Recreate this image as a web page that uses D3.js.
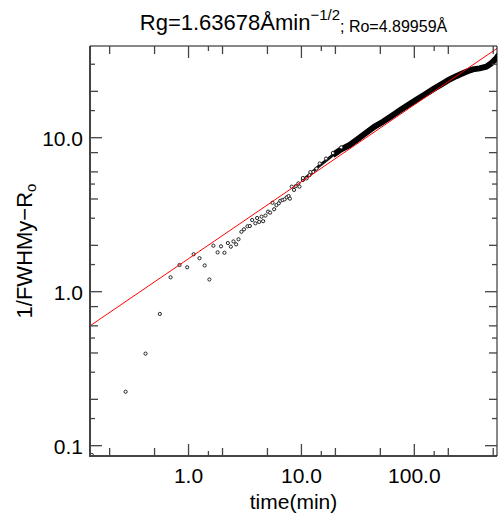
<!DOCTYPE html>
<html>
<head>
<meta charset="utf-8">
<script src="https://cdn.jsdelivr.net/npm/d3@7"></script>
<style>
body { margin: 0; background: #fff; }
text { font-family: "Liberation Sans", Arial, sans-serif; fill: #000; }
</style>
</head>
<body>
<div id="chart1"></div>
<script>
const width = 499;
const height = 516;

const margin = { "top": 46, "left": 90, "bottom": 60, "right": 2 };

// early, well separated samples (time in min, 1/FWHMy - Ro)
const sparseT = [0.139, 0.277, 0.416, 0.557, 0.693, 0.832, 0.972, 1.11, 1.25, 1.39, 1.53, 1.66, 1.81, 1.94, 2.08, 2.23, 2.37, 2.50, 2.64, 2.77,
    2.94, 3.10, 3.33, 3.49, 3.66, 3.91, 4.05, 4.22, 4.43, 4.58, 4.80, 5.06, 5.28, 5.54, 5.73, 6.0, 6.3, 6.5, 6.8, 7.1,
    7.4, 7.7, 7.9, 8.2, 8.6, 8.9, 9.4, 9.6, 10.3, 11.1, 11.8, 12.7, 13.6];
const sparseY = [0.087, 0.224, 0.396, 0.717, 1.24, 1.49, 1.44, 1.75, 1.65, 1.48, 1.20, 1.99, 1.80, 1.97, 1.79, 2.07, 1.96, 2.12, 2.03, 2.19,
    2.45, 2.54, 2.66, 2.67, 2.92, 2.78, 3.01, 2.84, 3.07, 2.87, 3.12, 3.31, 3.26, 3.78, 3.43, 3.65, 3.75, 3.89, 3.94, 3.98,
    4.10, 4.18, 4.02, 4.81, 4.58, 4.85, 5.05, 4.81, 5.31, 5.44, 5.71, 6.0, 6.3];

// later samples, so dense they merge into a band
const denseT = [10.3, 12.0, 14.5, 16.5, 19.0, 22.5, 26.8, 31.5, 37.6, 44.5, 52.7, 62.5, 74.1, 88, 104, 124, 146, 175, 205, 235, 269, 300, 330, 378, 434, 480, 532, 560];
const denseY = [5.31, 5.8, 6.6, 7.1, 7.72, 8.4, 8.97, 9.8, 10.8, 11.8, 12.7, 13.8, 15.0, 16.3, 17.6, 19.1, 20.6, 22.3, 23.9, 25.1, 26.2, 27.1, 27.8, 28.2, 28.9, 30.4, 32.8, 34.5];

// fitted line Rg * t^(1/2), end points
const fitT = [0.134, 540];
const fitY = [0.600, 38.0];

const xTicksMajor = [1, 10, 100];
const xTicksMid = [0.2, 0.5, 2, 5, 20, 50, 200, 500];
const xTicksShort = [1.5, 15, 150];
const yTicksMajor = [0.1, 1, 10];
const yTicksMid = [0.2, 0.4, 0.6, 0.8, 2, 4, 6, 8, 20];
const yTicksShort = [0.15, 0.3, 0.5, 1.5, 3, 5, 15, 30];

const sparse = sparseT.map((t, i) => ({ t: t, v: sparseY[i] }));
const dense = denseT.map((t, i) => ({ t: t, v: denseY[i] }));
const fit = fitT.map((t, i) => ({ t: t, v: fitY[i] }));

const svg = d3.select("#chart1").append("svg").attr("width", width).attr("height", height);

const xScale = d3.scaleLog()
    .domain([0.134, 540])
    .range([margin.left, width - margin.right]);

const yScale = d3.scaleLog()
    .domain([0.0857, 39.4])
    .range([height - margin.bottom, margin.top]);

const x0 = margin.left, x1 = width - margin.right;
const y0 = height - margin.bottom, y1 = margin.top;

svg.append("clipPath").attr("id", "clip")
    .append("rect")
    .attr("x", x0).attr("y", y1)
    .attr("width", x1 - x0).attr("height", y0 - y1);

const plot = svg.append("g").attr("clip-path", "url(#clip)");

const line = d3.line().x(d => xScale(d.t)).y(d => yScale(d.v));

// dense band: thin where the samples start to merge, thicker later on
plot.append("path")
    .datum(dense.filter(d => d.t <= 22.5))
    .attr("fill", "none")
    .attr("stroke", "#111")
    .attr("stroke-width", 3)
    .attr("d", line);

plot.append("path")
    .datum(dense.filter(d => d.t >= 19))
    .attr("fill", "none")
    .attr("stroke", "#000")
    .attr("stroke-width", 6)
    .attr("d", line);

plot.selectAll("circle.pt")
    .data(sparse)
    .join("circle")
    .attr("class", "pt")
    .attr("cx", d => xScale(d.t))
    .attr("cy", d => yScale(d.v))
    .attr("r", 1.6)
    .attr("fill", "#fff")
    .attr("stroke", "#222")
    .attr("stroke-width", 1);

plot.selectAll("circle.dn")
    .data(dense.filter(d => d.t <= 22.5))
    .join("circle")
    .attr("class", "dn")
    .attr("cx", d => xScale(d.t))
    .attr("cy", d => yScale(d.v) - 2)
    .attr("r", 1.6)
    .attr("fill", "#fff")
    .attr("stroke", "#222")
    .attr("stroke-width", 1);

plot.append("path")
    .datum(fit)
    .attr("fill", "none")
    .attr("stroke", "#ff0000")
    .attr("stroke-width", 1)
    .attr("d", line);

// frame
const axisColor = "#444";
svg.append("line").attr("x1", x0).attr("x2", x0).attr("y1", y1).attr("y2", y0 + 1)
    .attr("stroke", axisColor).attr("stroke-width", 2);
svg.append("line").attr("x1", x0 - 1).attr("x2", x1).attr("y1", y0).attr("y2", y0)
    .attr("stroke", axisColor).attr("stroke-width", 2);
svg.append("line").attr("x1", x0).attr("x2", x1).attr("y1", y1).attr("y2", y1)
    .attr("stroke", "#111").attr("stroke-width", 1);
svg.append("line").attr("x1", x1).attr("x2", x1).attr("y1", y1).attr("y2", y0)
    .attr("stroke", "#111").attr("stroke-width", 1);

// ticks (inward, on all four sides)
const xTickData = xTicksMajor.map(v => ({ v: v, len: 12 }))
    .concat(xTicksMid.map(v => ({ v: v, len: 8 })))
    .concat(xTicksShort.map(v => ({ v: v, len: 5 })));
const yTickData = yTicksMajor.map(v => ({ v: v, len: 12 }))
    .concat(yTicksMid.map(v => ({ v: v, len: 8 })))
    .concat(yTicksShort.map(v => ({ v: v, len: 5 })));

const ticks = svg.append("g").attr("stroke", axisColor).attr("stroke-width", 1.3);

ticks.selectAll("line.xb")
    .data(xTickData)
    .join("line")
    .attr("class", "xb")
    .attr("x1", d => xScale(d.v)).attr("x2", d => xScale(d.v))
    .attr("y1", y0).attr("y2", d => y0 - d.len);

ticks.selectAll("line.xt")
    .data(xTickData)
    .join("line")
    .attr("class", "xt")
    .attr("x1", d => xScale(d.v)).attr("x2", d => xScale(d.v))
    .attr("y1", y1).attr("y2", d => y1 + d.len);

ticks.selectAll("line.yl")
    .data(yTickData)
    .join("line")
    .attr("class", "yl")
    .attr("y1", d => yScale(d.v)).attr("y2", d => yScale(d.v))
    .attr("x1", x0).attr("x2", d => x0 + d.len);

ticks.selectAll("line.yr")
    .data(yTickData)
    .join("line")
    .attr("class", "yr")
    .attr("y1", d => yScale(d.v)).attr("y2", d => yScale(d.v))
    .attr("x1", x1).attr("x2", d => x1 - d.len);

// tick labels
svg.selectAll("text.xlab")
    .data(xTicksMajor)
    .join("text")
    .attr("class", "xlab")
    .attr("x", d => xScale(d))
    .attr("y", y0 + 27)
    .attr("text-anchor", "middle")
    .attr("font-size", 21)
    .text(d => d.toFixed(1));

svg.selectAll("text.ylab")
    .data(yTicksMajor)
    .join("text")
    .attr("class", "ylab")
    .attr("x", x0 - 7)
    .attr("y", d => yScale(d) + 8)
    .attr("text-anchor", "end")
    .attr("font-size", 21)
    .text(d => d.toFixed(1));

// axis titles
svg.append("text")
    .attr("x", (x0 + x1) / 2)
    .attr("y", height - 7)
    .attr("text-anchor", "middle")
    .attr("font-size", 21)
    .text("time(min)");

const ylabel = svg.append("text")
    .attr("transform", `translate(32,${(y0 + y1) / 2}) rotate(-90)`)
    .attr("text-anchor", "middle")
    .attr("font-size", 22);
ylabel.append("tspan").text("1/FWHMy\u2212R");
ylabel.append("tspan").attr("font-size", 15).attr("dy", 4).text("o");

// title
const title = svg.append("text")
    .attr("x", (x0 + x1) / 2)
    .attr("y", 30)
    .attr("text-anchor", "middle")
    .attr("font-size", 22);
title.append("tspan").text("Rg=1.63678\u00C5min");
title.append("tspan").attr("font-size", 15).attr("dy", -10).text("\u22121/2");
title.append("tspan").attr("font-size", 16).attr("dy", 12).text("; Ro=4.89959\u00C5");
</script>
</body>
</html>
